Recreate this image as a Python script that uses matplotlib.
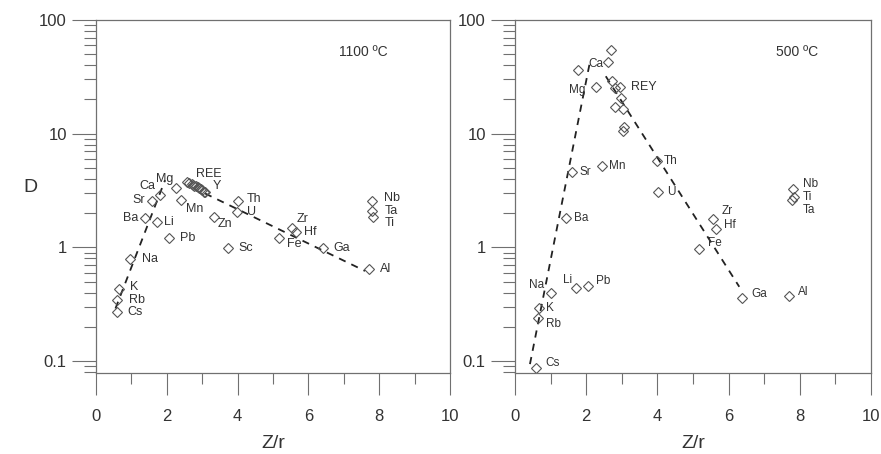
import matplotlib
matplotlib.use('Agg')
import matplotlib.pyplot as plt
import numpy as np
from matplotlib.ticker import FixedLocator, FixedFormatter, LogLocator, MultipleLocator, NullFormatter

plt.rcParams['font.family'] = ['Liberation Sans', 'DejaVu Sans']

# ---------------- data: 1100 C panel ----------------
labels_L = ['Cs', 'Rb', 'K', 'Na', 'Ba', 'Li', 'Sr', 'Ca', 'Mg', 'Mn', 'Pb', 'Zn', 'Sc',
            'Th', 'U', 'Zr', 'Hf', 'Fe', 'Ga', 'Al', 'Nb', 'Ta', 'Ti']
x_L = [0.58, 0.58, 0.66, 0.96, 1.38, 1.71, 1.57, 1.81, 2.26, 2.39, 2.06, 3.33, 3.72,
       4.02, 3.97, 5.53, 5.65, 5.18, 6.40, 7.71, 7.81, 7.81, 7.83]
D_L = [0.27, 0.345, 0.43, 0.785, 1.82, 1.68, 2.55, 2.86, 3.34, 2.6, 1.22, 1.84, 0.98,
       2.55, 2.04, 1.49, 1.36, 1.2, 0.99, 0.65, 2.55, 2.08, 1.86]
# label offsets (pixels): dx, dy (positive up), alignment
off_L = [(11, 0, 'left'), (12, 0, 'left'), (11, 2, 'left'), (12, 0, 'left'),
         (-6, 0, 'right'), (7, 0, 'left'), (-7, 1, 'right'), (-5, 9, 'right'),
         (-3, 9, 'right'), (5, -9, 'left'), (11, 0, 'left'), (4, -7, 'left'),
         (11, 0, 'left'), (8, 2, 'left'), (10, 0, 'left'), (5, 9, 'left'),
         (8, 0, 'left'), (8, -6, 'left'), (11, 0, 'left'), (11, 0, 'left'),
         (12, 3, 'left'), (12, 0, 'left'), (12, -6, 'left')]
# REE + Y cluster
x_REE_L = [2.58, 2.64, 2.70, 2.74, 2.78, 2.83, 2.87, 2.92, 2.96, 3.00, 3.05, 3.08]
D_REE_L = [3.75, 3.70, 3.62, 3.55, 3.50, 3.45, 3.38, 3.32, 3.25, 3.20, 3.10, 3.05]
# trend lines
trend_up_L_x = [0.55, 1.95]
trend_up_L_D = [0.29, 3.9]
trend_dn_L_x = [3.08, 7.6]
trend_dn_L_D = [2.98, 0.62]

# ---------------- data: 500 C panel ----------------
labels_R = ['Cs', 'Rb', 'K', 'Na', 'Li', 'Pb', 'Ba', 'Sr', 'Mn', 'Ca', 'Mg', 'Th', 'U',
            'Zr', 'Hf', 'Fe', 'Ga', 'Al', 'Nb', 'Ti', 'Ta']
x_R = [0.59, 0.64, 0.68, 1.00, 1.71, 2.04, 1.43, 1.59, 2.43, 1.78, 2.27, 4.00, 4.03,
       5.55, 5.65, 5.18, 6.39, 7.70, 7.80, 7.84, 7.79]
D_R = [0.087, 0.237, 0.294, 0.393, 0.44, 0.455, 1.81, 4.57, 5.24, 36.4, 26.0, 5.8, 3.1,
       1.76, 1.46, 0.96, 0.355, 0.374, 3.23, 2.8, 2.62]
off_R = [(9, 5, 'left'), (8, -6, 'left'), (7, 0, 'left'), (-6, 8, 'right'),
         (-4, 8, 'right'), (8, 5, 'left'), (8, 0, 'left'), (8, 0, 'left'),
         (7, 0, 'left'), (10, 6, 'left'), (-10, -3, 'right'), (6, 0, 'left'),
         (9, 0, 'left'), (9, 8, 'left'), (8, 4, 'left'), (9, 6, 'left'),
         (9, 4, 'left'), (9, 4, 'left'), (10, 5, 'left'), (9, 0, 'left'),
         (10, -10, 'left')]
x_REY_R = [2.70, 2.62, 2.72, 2.81, 2.95, 2.97, 2.81, 3.02, 3.06, 3.04]
D_REY_R = [55.0, 42.3, 29.2, 25.0, 25.5, 20.6, 17.3, 16.5, 11.4, 10.5]
trend_up_R_x = [0.42, 2.1]
trend_up_R_D = [0.094, 42.0]
trend_dn_R_x = [2.55, 6.3]
trend_dn_R_D = [32.0, 0.45]

y_ticks = [0.1, 1, 10, 100]
y_ticklabels = ['0.1', '1', '10', '100']
x_ticks = [0, 2, 4, 6, 8, 10]

W, H = 881, 454
fig = plt.figure(figsize=(W / 100, H / 100), dpi=100)
axL = fig.add_axes([96 / W, 81 / H, 354 / W, 353 / H])
axR = fig.add_axes([515 / W, 81 / H, 356 / W, 353 / H])

gray = '#707070'
txt = '#333333'
mk = dict(marker='D', ms=5.2, mfc='none', mec='#555555', mew=0.8, ls='none')
dash = dict(color='#222222', lw=1.3, ls=(0, (4, 3.5)))


def style(ax):
    ax.set_yscale('log')
    ax.set_xlim(0, 10)
    ax.set_ylim(0.0785, 100)
    ax.yaxis.set_major_locator(FixedLocator(y_ticks))
    ax.yaxis.set_major_formatter(FixedFormatter(y_ticklabels))
    ax.yaxis.set_minor_locator(LogLocator(base=10, subs=np.arange(2, 10)))
    ax.yaxis.set_minor_formatter(NullFormatter())
    ax.xaxis.set_major_locator(FixedLocator(x_ticks))
    ax.xaxis.set_minor_locator(MultipleLocator(1))
    ax.tick_params(axis='y', which='major', direction='out', length=17, width=0.8,
                   color=gray, labelsize=12, labelcolor=txt, pad=4)
    ax.tick_params(axis='y', which='minor', direction='out', length=8.6, width=0.8,
                   color=gray)
    ax.tick_params(axis='x', which='major', direction='out', length=16, width=0.8,
                   color=gray, labelsize=12, labelcolor=txt, pad=10)
    ax.tick_params(axis='x', which='minor', direction='out', length=8, width=0.8,
                   color=gray)
    ax.tick_params(top=False, right=False, which='both')
    for s in ax.spines.values():
        s.set_color(gray)
        s.set_linewidth(0.9)


def draw(ax, labels, xs, ds, offs, cx, cd, ux, ud, dx_, dd, fs):
    ax.plot(ux, ud, **dash)
    ax.plot(dx_, dd, **dash)
    ax.plot(cx, cd, **mk)
    ax.plot(xs, ds, **mk)
    for lab, x, d, (ox, oy, ha) in zip(labels, xs, ds, offs):
        ax.annotate(lab, (x, d), xytext=(ox, oy), textcoords='offset pixels',
                    ha=ha, va='center', fontsize=fs, color=txt)


style(axL)
style(axR)
draw(axL, labels_L, x_L, D_L, off_L, x_REE_L, D_REE_L,
     trend_up_L_x, trend_up_L_D, trend_dn_L_x, trend_dn_L_D, 9)
draw(axR, labels_R, x_R, D_R, off_R, x_REY_R, D_REY_R,
     trend_up_R_x, trend_up_R_D, trend_dn_R_x, trend_dn_R_D, 8.5)

axL.annotate('REE', (x_REE_L[0], D_REE_L[0]), xytext=(9, 8), textcoords='offset pixels',
             ha='left', va='center', fontsize=9, color=txt)
axL.annotate('Y', (x_REE_L[-1], D_REE_L[-1]), xytext=(8, 6), textcoords='offset pixels',
             ha='left', va='center', fontsize=9, color=txt)
axR.annotate('REY', (x_REY_R[4], D_REY_R[4]), xytext=(11, 0), textcoords='offset pixels',
             ha='left', va='center', fontsize=9, color=txt)

axL.text(0.754, 0.909, '1100 ºC', transform=axL.transAxes, ha='center', va='center',
         fontsize=10, color=txt)
axR.text(0.792, 0.909, '500 ºC', transform=axR.transAxes, ha='center', va='center',
         fontsize=10, color=txt)

fig.text(30 / W, 1 - 188 / H, 'D', ha='center', va='center', fontsize=14, color=txt)
fig.text(273 / W, 1 - 443 / H, 'Z/r', ha='center', va='center', fontsize=14, color=txt)
fig.text(693 / W, 1 - 443 / H, 'Z/r', ha='center', va='center', fontsize=14, color=txt)

fig.savefig('out.png', dpi=100, facecolor='white')
